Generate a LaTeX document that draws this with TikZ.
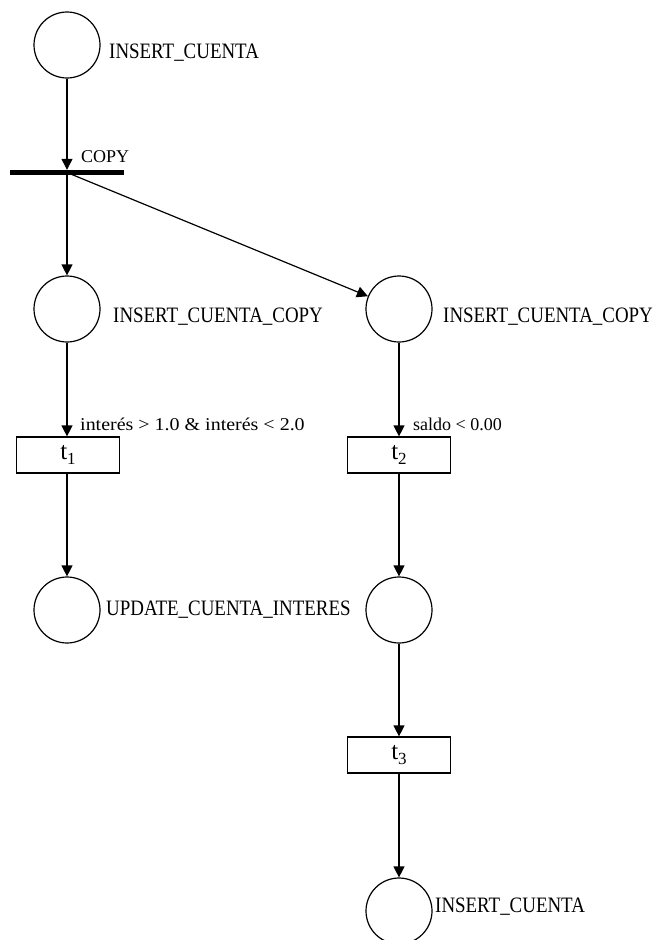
\documentclass[tikz,border=0pt]{standalone}
\usepackage{fontspec}
\usepackage{graphicx}
\setmainfont{Liberation Serif}
\usetikzlibrary{arrows.meta}
\newcommand{\plabtext}[1]{\scalebox{0.86}[1]{#1}}
\newcommand{\tsub}[1]{t\raisebox{-5pt}{\fontsize{17}{17}\selectfont #1}}
\tikzset{
  place/.style={circle, draw, line width=1.2pt, minimum size=66pt, inner sep=0pt},
  trans/.style={rectangle, draw, line width=1.2pt, minimum width=103pt, minimum height=36pt, inner sep=0pt, font=\fontsize{25}{25}\selectfont},
  barnode/.style={rectangle, fill=black, minimum width=114pt, minimum height=5pt, inner sep=0pt},
  arc/.style={-{Triangle[length=11pt,width=11pt]}, line width=1.2pt},
  plabel/.style={anchor=base west, inner sep=0pt, font=\fontsize{22}{22}\selectfont},
  alabel/.style={anchor=base west, inner sep=0pt, font=\fontsize{18}{18}\selectfont}
}
\begin{document}
\begin{tikzpicture}[x=1pt,y=-1pt]
\clip (0,0) rectangle (659,940);
\fill[white] (0,0) rectangle (659,940);
% places
\node[place] (p0) at (67,45) {};
\node[barnode] (copy) at (67,172.5) {};
\node[place] (p1) at (67,309) {};
\node[place] (p2) at (399,309) {};
\node[trans] (t1) at (68,455) {\tsub{1}};
\node[trans] (t2) at (399,455) {\tsub{2}};
\node[place] (p3) at (67,610) {};
\node[place] (p4) at (399,610) {};
\node[trans] (t3) at (399,755) {\tsub{3}};
\node[place] (p5) at (399,911) {};
% labels
\node[plabel] (l0) at (109,58) {\plabtext{INSERT\_CUENTA}};
\node[alabel] (lcopy) at (81,162) {COPY};
\node[plabel] (l1) at (113,322) {\plabtext{INSERT\_CUENTA\_COPY}};
\node[plabel] (l2) at (443,322) {\plabtext{INSERT\_CUENTA\_COPY}};
\node[alabel] (g1) at (80,430) {\scalebox{1.11}[1]{interés > 1.0 \& interés < 2.0}};
\node[alabel] (g2) at (413,430) {saldo < 0.00};
\node[plabel] (l3) at (106,615) {\plabtext{UPDATE\_CUENTA\_INTERES}};
\node[plabel] (l5) at (435,912) {\plabtext{INSERT\_CUENTA}};
% arcs
\draw[arc] (p0) -- (p0 |- copy.north);
\draw[arc] (copy.center) -- (p1);
\draw[arc] (copy.center) -- (p2);
\draw[arc] (p1) -- (p1 |- t1.north);
\draw[arc] (p2) -- (t2);
\draw[arc] (p1 |- t1.south) -- (p3);
\draw[arc] (t2) -- (p4);
\draw[arc] (p4) -- (t3);
\draw[arc] (t3) -- (p5);
\end{tikzpicture}
\end{document}
